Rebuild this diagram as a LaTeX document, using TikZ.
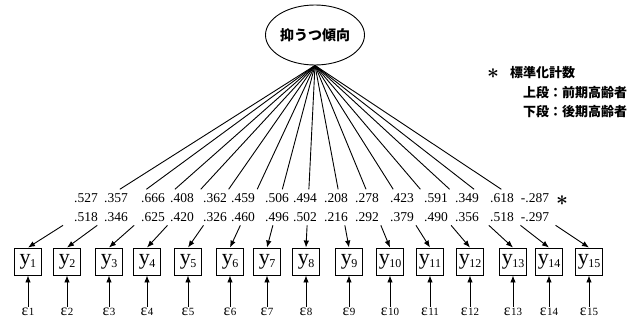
\documentclass[tikz,border=0pt]{standalone}
\usepackage{fontspec}
\setmainfont{Liberation Serif}
\newfontfamily\jp{Noto Sans CJK JP}
\usetikzlibrary{arrows.meta,calc,shapes.geometric}
\tikzset{
  obs/.style={draw,line width=0.9pt,minimum width=27pt,minimum height=27pt,inner sep=0pt},
  errlab/.style={inner sep=1pt,font=\fontsize{16}{16}\selectfont},
  num/.style={inner sep=0pt,font=\fontsize{13.5}{13.5}\selectfont},
  link/.style={line width=0.9pt},
  arr/.style={line width=0.9pt,-{Latex[length=7pt,width=5.5pt]}},
  legend/.style={inner sep=0pt,anchor=west,font=\jp\bfseries\fontsize{13}{13}\selectfont},
  star/.style={inner sep=0pt,font=\boldmath\fontsize{20}{20}\selectfont},
}
\begin{document}
\begin{tikzpicture}[x=1pt,y=-1pt]
\useasboundingbox (0,0) rectangle (633,322);
\node[ellipse,draw,line width=0.9pt,minimum width=86pt,minimum height=60pt,inner sep=0pt,
      font=\jp\bfseries\fontsize{14}{14}\selectfont] (lv) at (315,35) {抑うつ傾向};
\foreach \i/\bx/\lx/\a/\b in {1/28/86/.527/.518, 2/67/116/.357/.346, 3/109/153/.666/.625,
  4/147/182/.408/.420, 5/188/215/.362/.326, 6/230/243/.459/.460, 7/267/277/.506/.496,
  8/306/305/.494/.502, 9/349/336/.208/.216, 10/390/367/.278/.292, 11/430/402/.423/.379,
  12/470/436/.591/.490, 13/513/467/.349/.356, 14/549/502/.618/.518, 15/589/535/-.287/-.297}{
  \node[obs] (y\i) at (\bx,261.5) {\fontsize{22}{22}\selectfont y\kern-0.5pt\raisebox{-3pt}{\fontsize{12}{12}\selectfont\i}};
  \node[errlab] (e\i) at (\bx,312) {ε\kern0.5pt\raisebox{-0.3pt}{\fontsize{11}{11}\selectfont\i}};
  \node[num] (a\i) at (\lx,198) {\a};
  \node[num] (b\i) at (\lx,217) {\b};
  \draw[link] (lv.south) -- ($(lv.south)!0.68!(y\i.north)$);
  \draw[arr] ($(lv.south)!0.878!(y\i.north)$) -- (y\i.north);
  \draw[arr] (e\i.north) -- (y\i.south);
}
\node[star] (st2) at (562,201) {$\ast$};
\node[star] (st1) at (493,74) {$\ast$};
\node[legend] (l1) at (510,73) {標準化計数};
\node[legend] (l2) at (523,93) {上段：前期高齢者};
\node[legend] (l3) at (523,112) {下段：後期高齢者};
\end{tikzpicture}
\end{document}
